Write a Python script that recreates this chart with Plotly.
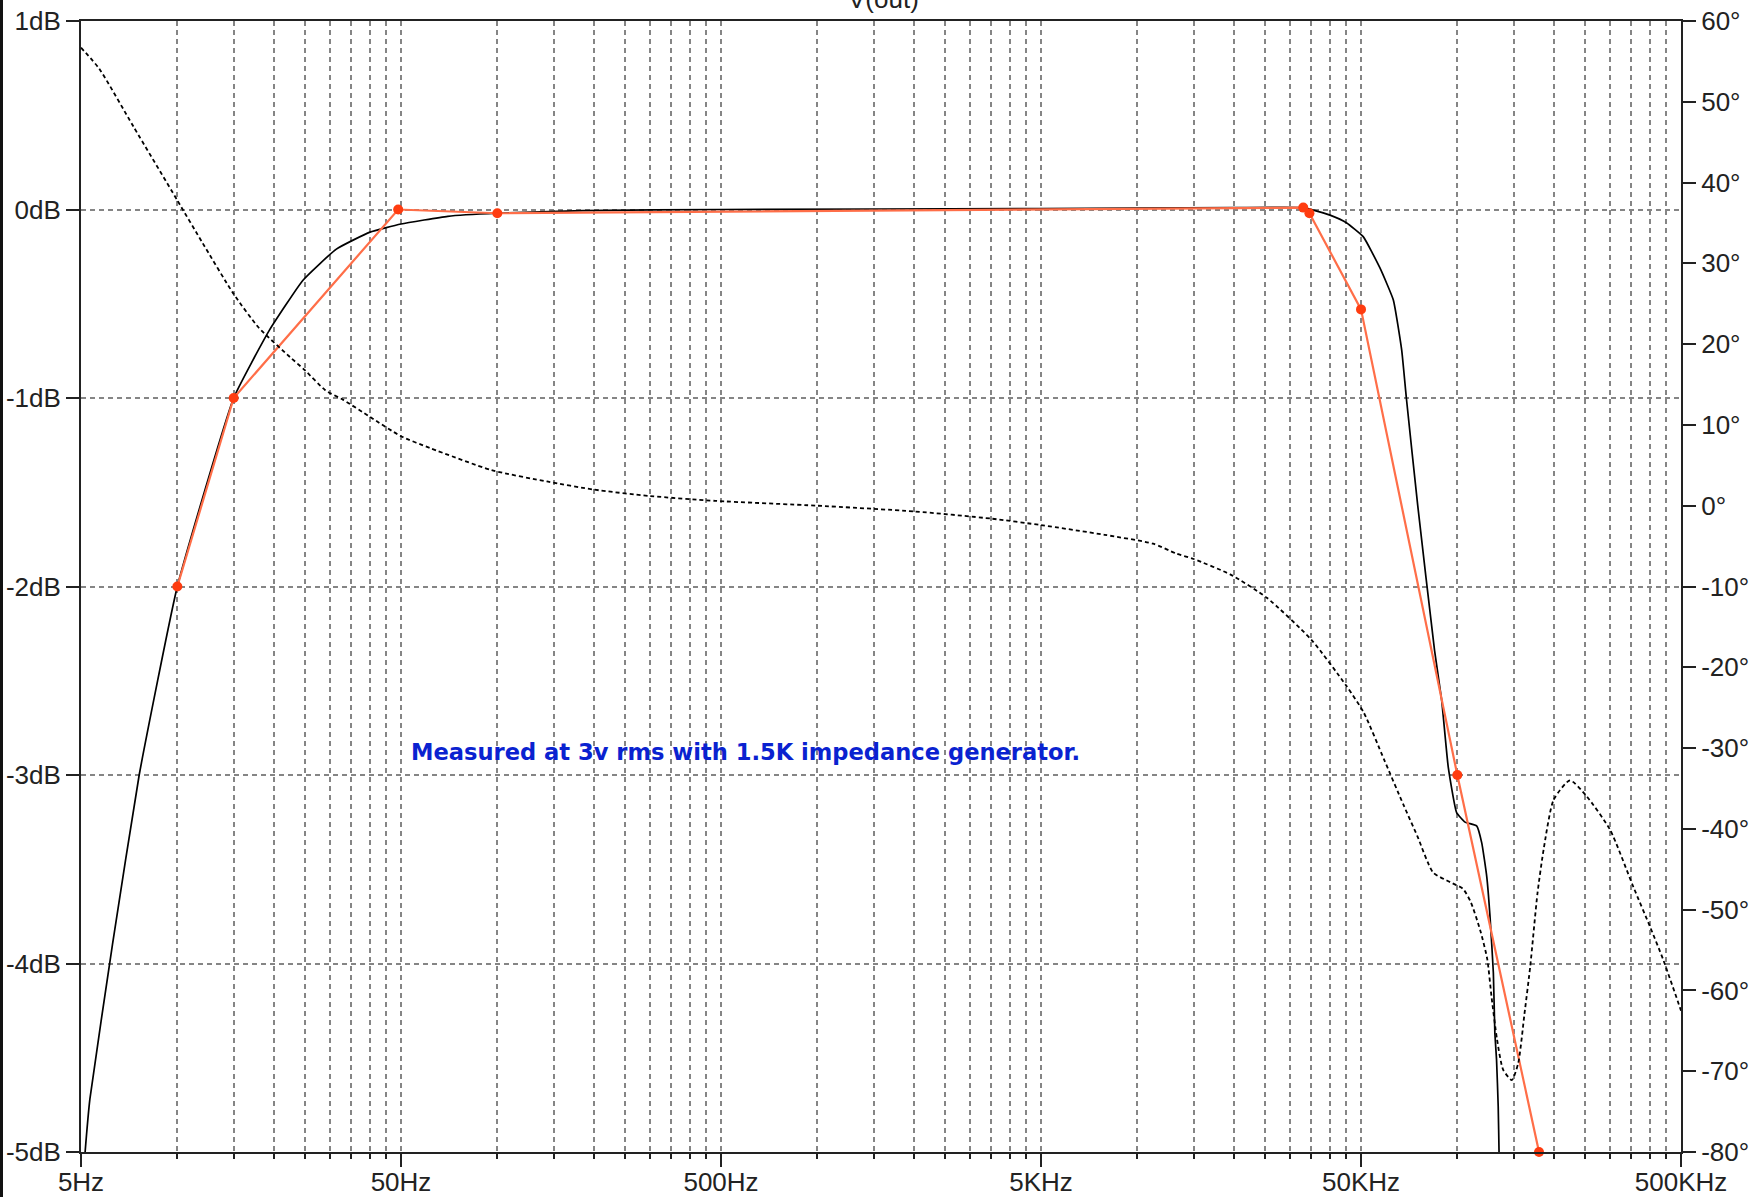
import plotly.graph_objects as go

# ---- data ----
mag_freq = [5, 5.15, 5.33, 6.27, 7.6, 10, 15, 19.4, 24.7, 31.4, 40, 50, 70, 100, 185, 500,
            5000, 20000, 33000, 35500, 40000, 45000, 50800, 57300, 63100, 67000, 69300,
            75200, 84900, 89300, 93700, 99500, 105700, 114900, 119200, 123600, 126500,
            129600, 131000, 132600, 134200, 135000, 136000]
mag_db = [-5.3, -5.0, -4.72, -3.9, -3.0, -2.0, -1.0, -0.64, -0.375, -0.21, -0.12, -0.077,
          -0.036, -0.02, -0.006, 0.0, 0.005, 0.01, 0.01, -0.003, -0.03, -0.07, -0.144,
          -0.31, -0.48, -0.745, -1.0, -1.57, -2.34, -2.6, -2.96, -3.2, -3.25, -3.27,
          -3.36, -3.54, -3.75, -4.05, -4.37, -4.51, -4.76, -5.0, -5.6]

phase_freq = [5, 5.7, 7.3, 10, 12, 15, 18, 22.5, 25, 29, 33, 40, 50, 62, 96, 143, 200, 300,
              480, 1000, 2000, 3500, 5000, 7900, 11200, 13200, 15000, 19500, 25400, 35000,
              45000, 51000, 59000, 68000, 75000, 84000, 95000, 104000, 110000, 118000,
              124000, 128000, 133000, 139000, 148000, 155000, 162000, 169000, 178000,
              186000, 200000, 225000, 254000, 300000, 355000, 400000, 440000, 500000]
phase_deg = [56.7, 54.1, 46.9, 37.8, 32.5, 26.2, 22.0, 18.4, 16.8, 14.3, 13.1, 11.0, 8.6,
             7.1, 4.4, 3.0, 2.0, 1.2, 0.6, 0.0, -0.7, -1.6, -2.4, -3.6, -4.7, -5.9, -6.6,
             -8.5, -11.4, -16.6, -22.3, -25.6, -31.4, -37.1, -40.9, -45.4, -46.6, -47.4,
             -49.0, -52.6, -56.1, -60.9, -66.0, -69.8, -71.1, -69.0, -63.0, -57.0, -48.0,
             -42.6, -36.4, -34.0, -36.0, -40.1, -47.2, -52.1, -56.2, -62.5]

meas_freq = [10, 15, 49, 100, 33000, 34500, 50000, 100000, 180000]
meas_db = [-2.0, -1.0, 0.0, -0.02, 0.01, -0.02, -0.53, -3.0, -5.0]

x_tick_vals = [5, 50, 500, 5000, 50000, 500000]
x_tick_text = ["5Hz", "50Hz", "500Hz", "5KHz", "50KHz", "500KHz"]
db_tick_vals = [-5, -4, -3, -2, -1, 0, 1]
db_tick_text = ["-5dB", "-4dB", "-3dB", "-2dB", "-1dB", "0dB", "1dB"]
deg_tick_vals = list(range(-80, 61, 10))
deg_tick_text = [f"{v}°" for v in deg_tick_vals]

minor_vals = [5 * 10 ** n * k for n in range(5) for k in range(2, 10)]

FONT = "Liberation Sans, Arial, sans-serif"
GRID = "#858585"
INK = "#222"

fig = go.Figure()
fig.add_trace(go.Scatter(x=mag_freq, y=mag_db, mode="lines",
                         line=dict(color="black", width=1.7, shape="spline", smoothing=0.4),
                         yaxis="y", showlegend=False))
fig.add_trace(go.Scatter(x=phase_freq, y=phase_deg, mode="lines",
                         line=dict(color="black", width=1.8, dash="4px,3px", shape="spline",
                                   smoothing=0.6),
                         yaxis="y2", showlegend=False))
fig.add_trace(go.Scatter(x=meas_freq, y=meas_db, mode="lines+markers",
                         line=dict(color="#ff6e48", width=2.2),
                         marker=dict(color="#ff3c10", size=10),
                         cliponaxis=False, yaxis="y", showlegend=False))

fig.update_layout(
    width=1758, height=1197, autosize=False,
    margin=dict(l=81, r=77, t=21, b=45, pad=0),
    paper_bgcolor="white", plot_bgcolor="white",
    font=dict(family=FONT, size=26, color=INK),
    xaxis=dict(
        type="log", range=[0.69897, 5.69897], automargin=False,
        tickmode="array", tickvals=x_tick_vals, ticktext=x_tick_text,
        ticks="outside", ticklen=13, tickwidth=2, tickcolor=INK,
        ticklabelstandoff=-7,
        showgrid=True, gridcolor=GRID, griddash="5px,4px", gridwidth=1.5,
        showline=True, linecolor=INK, linewidth=2, mirror=True,
        zeroline=False,
        minor=dict(tickmode="array", tickvals=minor_vals, ticks="outside", ticklen=5,
                   tickwidth=2, tickcolor=INK, showgrid=True, gridcolor=GRID,
                   griddash="5px,4px", gridwidth=1.5),
        tickfont=dict(family=FONT, size=26, color=INK),
    ),
    yaxis=dict(
        range=[-5, 1], automargin=False,
        tickmode="array", tickvals=db_tick_vals, ticktext=db_tick_text,
        ticks="outside", ticklen=13, tickwidth=2, tickcolor=INK,
        showgrid=True, gridcolor=GRID, griddash="5px,4px", gridwidth=1.5,
        showline=True, linecolor=INK, linewidth=2, zeroline=False,
        tickfont=dict(family=FONT, size=26, color=INK),
    ),
    yaxis2=dict(
        range=[-80, 60], overlaying="y", side="right", automargin=False,
        tickmode="array", tickvals=deg_tick_vals, ticktext=deg_tick_text,
        ticks="outside", ticklen=13, tickwidth=2, tickcolor=INK,
        showgrid=False, showline=True, linecolor=INK, linewidth=2, zeroline=False,
        tickfont=dict(family=FONT, size=26, color=INK),
    ),
)

fig.add_annotation(text="Measured at 3v rms with 1.5K impedance generator.",
                   xref="x", yref="y", x=1.724, y=-2.88, xanchor="left", yanchor="middle",
                   showarrow=False,
                   font=dict(family="DejaVu Sans, Verdana, sans-serif", size=22.6,
                             color="#0a22d0", weight="bold"))

fig.add_annotation(text="V(out)", xref="paper", yref="paper", x=0.50125, y=1,
                   xanchor="center", yanchor="bottom", yshift=5, showarrow=False,
                   font=dict(family=FONT, size=26, color=INK))

# left window border
fig.add_shape(type="rect", xref="paper", yref="paper",
              x0=-81 / 1600, x1=-78 / 1600, y0=-45 / 1131, y1=1 + 21 / 1131,
              fillcolor="#111", line=dict(width=0), layer="above")

fig.write_html("out.html", config={"displayModeBar": False},
               post_script="document.body.style.margin='0';document.body.style.overflow='hidden';")
